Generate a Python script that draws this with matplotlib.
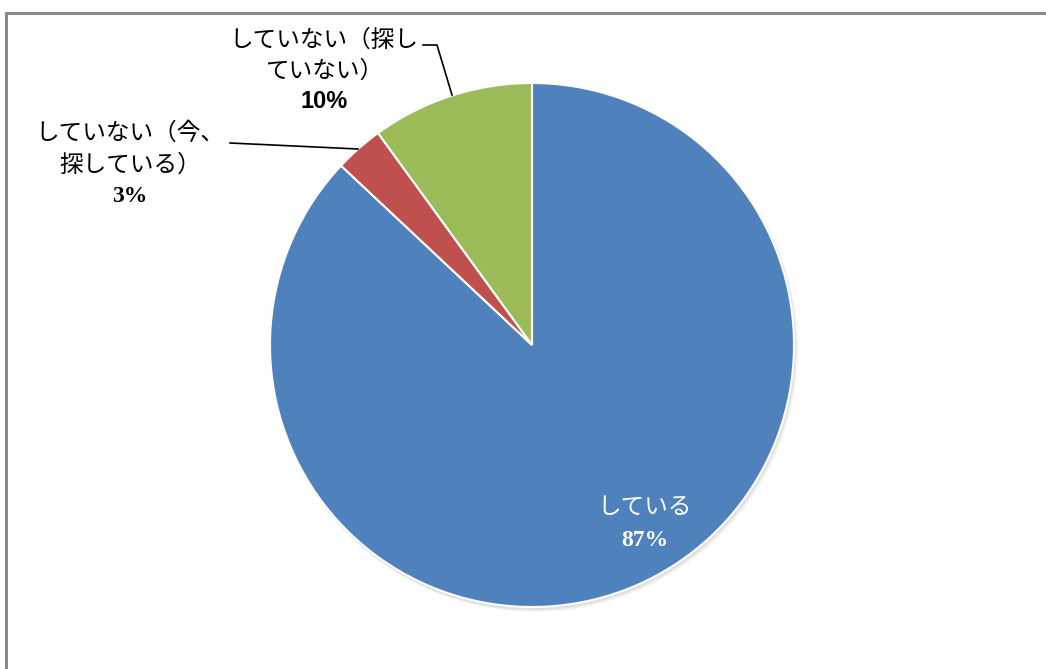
import matplotlib
matplotlib.use("Agg")
import matplotlib.pyplot as plt

plt.rcParams['font.family'] = ['Noto Sans CJK JP', 'DejaVu Sans']

labels = ["している", "していない（今、\n探している）", "していない（探し\nていない）"]
values = [87, 3, 10]
colors = ["#4F81BD", "#C0504D", "#9BBB59"]

W, H = 1046, 669
fig = plt.figure(figsize=(W / 100, H / 100), dpi=100)
ax = fig.add_axes([0, 0, 1, 1])

cx, cy, r = 532, H - 345, 262

# soft shadow under the pie
for i, a in enumerate([0.05, 0.04, 0.03]):
    ax.add_patch(plt.Circle((cx + 1 + i, cy - 2 - i), r + 1, color='black', alpha=a, lw=0, zorder=0))

wedges, _ = ax.pie(values, colors=colors, startangle=90, counterclock=False,
                   center=(cx, cy), radius=r, frame=True,
                   wedgeprops=dict(edgecolor='white', linewidth=1.5))
ax.set_xlim(0, W)
ax.set_ylim(0, H)
ax.set_aspect('equal')
ax.axis('off')

FS = 17
serif = ['Liberation Serif', 'DejaVu Serif']
sans = ['Liberation Sans', 'DejaVu Sans']


def label_block(x, ys, text, pct, color, pct_font):
    lines = text.split("\n")
    for line, y in zip(lines, ys):
        ax.text(x, H - y, line, color=color, fontsize=FS, ha='center', va='center')
    ax.text(x, H - ys[len(lines)], f"{pct}%", color=color, fontsize=FS, fontweight='bold',
            family=pct_font, ha='center', va='center')


label_block(645, [507, 540], labels[0], values[0], 'white', serif)
label_block(130, [133, 165, 197], labels[1], values[1], 'black', serif)
label_block(324, [40, 71, 102], labels[2], values[2], 'black', sans)

# leader lines
ax.plot([230, 358], [H - 143, H - 149], color='black', lw=1.2, zorder=5)
ax.plot([423, 437, 452], [H - 45, H - 45, H - 95], color='black', lw=1.2, zorder=5)

# chart frame
ax.plot([6, 6, W + 5], [-5, H - 12.5, H - 12.5], color='#888888', lw=2.2, zorder=6,
        solid_joinstyle='miter')

fig.savefig("out.png", dpi=100)
